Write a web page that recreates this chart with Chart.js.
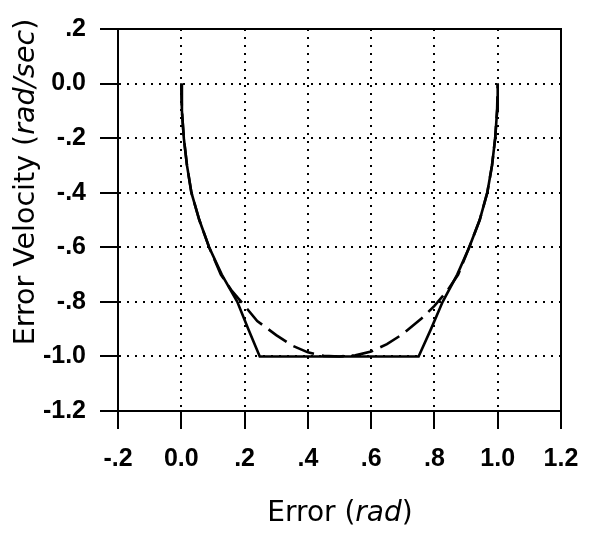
<!DOCTYPE html>
<html>
<head>
<meta charset="utf-8">
<script src="https://cdn.jsdelivr.net/npm/chart.js@4"></script>
<style>
  html, body { margin: 0; padding: 0; background: #fff; }
  #wrap { width: 598px; height: 535px; position: relative; }
</style>
</head>
<body>
<div id="wrap"><canvas id="chart"></canvas></div>
<script>
// tick labels as printed on the axes
const xTickLabels = ['-.2', '0.0', '.2', '.4', '.6', '.8', '1.0', '1.2'];
const yTickLabels = ['-1.2', '-1.0', '-.8', '-.6', '-.4', '-.2', '0.0', '.2'];

// solid curve (saturates at -1 between .25 and .75)
const solidX = [0, 0.002, 0.008, 0.018, 0.032, 0.057, 0.088, 0.128, 0.177, 0.212, 0.248,
                0.75, 0.789, 0.826, 0.872, 0.91, 0.943, 0.967, 0.982, 0.992, 0.998, 1];
const solidY = [0, -0.1, -0.2, -0.3, -0.4, -0.5, -0.6, -0.7, -0.8, -0.9, -1.0,
                -1.0, -0.9, -0.8, -0.7, -0.6, -0.5, -0.4, -0.3, -0.2, -0.1, 0];

// dashed curve
const dashX = [0, 0.002, 0.008, 0.018, 0.032, 0.057, 0.088, 0.125, 0.16, 0.197, 0.24, 0.3, 0.35,
               0.4, 0.45, 0.5, 0.55, 0.6, 0.65, 0.7, 0.76, 0.8, 0.84, 0.875, 0.91, 0.943,
               0.967, 0.982, 0.992, 0.998, 1];
const dashY = [0, -0.1, -0.2, -0.3, -0.4, -0.5, -0.6, -0.7, -0.76, -0.81, -0.87, -0.922, -0.96,
               -0.985, -0.998, -1.0, -0.996, -0.982, -0.955, -0.918, -0.86, -0.815, -0.76, -0.7, -0.6, -0.5,
               -0.4, -0.3, -0.2, -0.1, 0];

const toPoints = (xs, ys) => xs.map((x, i) => ({ x: x, y: ys[i] }));

const TITLE_FONT = "'DejaVu Sans', Arial, sans-serif";
const TICK_FONT = "'Liberation Sans', Arial, sans-serif";

// draws a title made of plain and italic pieces, centred on (cx, baseline y)
function drawPieces(ctx, pieces, cx, y, size) {
  const fontOf = p => (p.italic ? 'italic ' : '') + size + 'px ' + TITLE_FONT;
  let total = 0;
  pieces.forEach(p => { ctx.font = fontOf(p); total += ctx.measureText(p.text).width; });
  let x = cx - total / 2;
  ctx.textAlign = 'left';
  ctx.textBaseline = 'alphabetic';
  ctx.fillStyle = '#000';
  pieces.forEach(p => {
    ctx.font = fontOf(p);
    ctx.fillText(p.text, x, y);
    x += ctx.measureText(p.text).width;
  });
}

const framePlugin = {
  id: 'frame',
  afterDraw(chart) {
    const ctx = chart.ctx;
    const a = chart.chartArea;
    ctx.save();
    ctx.strokeStyle = '#000';
    ctx.lineWidth = 2;
    ctx.strokeRect(a.left, a.top, a.right - a.left, a.bottom - a.top);

    drawPieces(ctx, [{ text: 'Error (' }, { text: 'rad', italic: true }, { text: ')' }], 340, 521, 28);

    ctx.translate(34, 182);
    ctx.rotate(-Math.PI / 2);
    drawPieces(ctx, [{ text: 'Error Velocity (' }, { text: 'rad/sec', italic: true }, { text: ')' }], 0, 0, 28.5);
    ctx.restore();
  }
};

const gridStyle = {
  color: '#000',
  lineWidth: 2,
  tickLength: 18,
  tickColor: '#000',
  tickWidth: 2,
  tickBorderDash: []
};

new Chart(document.getElementById('chart').getContext('2d'), {
  type: 'line',
  data: {
    datasets: [{
      data: toPoints(solidX, solidY),
      borderColor: '#000',
      borderWidth: 2.6,
      pointRadius: 0,
      tension: 0,
      fill: false
    }, {
      data: toPoints(dashX, dashY),
      borderColor: '#000',
      borderWidth: 2.6,
      borderDash: [22, 8],
      pointRadius: 0,
      tension: 0,
      fill: false
    }]
  },
  options: {
    responsive: true,
    maintainAspectRatio: false,
    animation: false,
    layout: { padding: { top: 16, right: 37, left: 0, bottom: 0 } },
    plugins: {
      legend: { display: false },
      tooltip: { enabled: false }
    },
    scales: {
      x: {
        type: 'linear',
        min: -0.2,
        max: 1.2,
        afterFit: s => { s.height = 124; },
        ticks: {
          stepSize: 0.2,
          autoSkip: false,
          maxRotation: 0,
          padding: 15,
          color: '#000',
          font: { family: TICK_FONT, size: 25, weight: 'bold' },
          callback: (v, i) => xTickLabels[i]
        },
        grid: gridStyle,
        border: { display: true, color: '#000', width: 2, dash: [2, 6] }
      },
      y: {
        type: 'linear',
        min: -1.2,
        max: 0.2,
        afterFit: s => { s.width = 118; },
        ticks: {
          stepSize: 0.2,
          autoSkip: false,
          padding: 14,
          color: '#000',
          font: { family: TICK_FONT, size: 25, weight: 'bold' },
          callback: (v, i) => yTickLabels[i]
        },
        grid: gridStyle,
        border: { display: true, color: '#000', width: 2, dash: [2, 6] }
      }
    }
  },
  plugins: [framePlugin]
});
</script>
</body>
</html>
